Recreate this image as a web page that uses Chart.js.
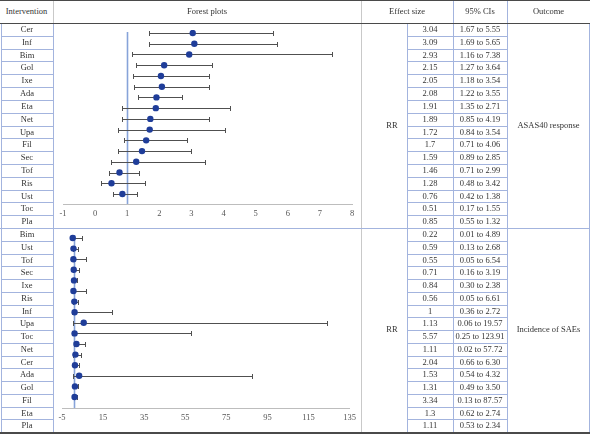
<!DOCTYPE html>
<html><head><meta charset="utf-8">
<script src="https://cdn.jsdelivr.net/npm/chart.js@4.4.1/dist/chart.umd.min.js"></script>
<style>
html,body{margin:0;padding:0;background:#fff;}
#wrap{position:relative;width:590px;height:434px;font-family:"Liberation Serif","DejaVu Serif",serif;font-size:8.5px;color:#333;overflow:hidden;background:#fff;}
.t{position:absolute;text-align:center;white-space:nowrap;}
.l{position:absolute;}
canvas{position:absolute;}
</style></head><body><div id="wrap">
<canvas id="chartA" width="308" height="205" style="left:53px;top:23px"></canvas>
<canvas id="chartB" width="308" height="204" style="left:53px;top:228px"></canvas>
</div>
<script>
// ---- data ----
const headers = ["Intervention", "Forest plots", "Effect size", "95% CIs", "Outcome"];
const measure = "RR";
const outcomeA = "ASAS40 response";
const outcomeB = "Incidence of SAEs";

const namesA = ["Cer","Inf","Bim","Gol","Ixe","Ada","Eta","Net","Upa","Fil","Sec","Tof","Ris","Ust","Toc","Pla"];
const rrA = [3.04,3.09,2.93,2.15,2.05,2.08,1.91,1.89,1.72,1.7,1.59,1.46,1.28,0.76,0.51,0.85];
const loA = [1.67,1.69,1.16,1.27,1.18,1.22,1.35,0.85,0.84,0.71,0.89,0.71,0.48,0.42,0.17,0.55];
const hiA = [5.55,5.65,7.38,3.64,3.54,3.55,2.71,4.19,3.54,4.06,2.85,2.99,3.42,1.38,1.55,1.32];

const namesB = ["Bim","Ust","Tof","Sec","Ixe","Ris","Inf","Upa","Toc","Net","Cer","Ada","Gol","Fil","Eta","Pla"];
const rrB = [0.22,0.59,0.55,0.71,0.84,0.56,1,1.13,5.57,1.11,2.04,1.53,1.31,3.34,1.3,1.11];
const loB = [0.01,0.13,0.05,0.16,0.30,0.05,0.36,0.06,0.25,0.02,0.66,0.54,0.49,0.13,0.62,0.53];
const hiB = [4.89,2.68,6.54,3.19,2.38,6.61,2.72,19.57,123.91,57.72,6.30,4.32,3.50,87.57,2.74,2.34];

const ticksA = [-1,0,1,2,3,4,5,6,7,8];
const ticksB = [-5,15,35,55,75,95,115,135];
const refValue = 1;

// ---- table chrome ----
const wrap = document.getElementById('wrap');
function text(s, x1, x2, y, h, extra) {
  const d = document.createElement('div');
  d.className = 't';
  d.style.left = x1 + 'px'; d.style.width = (x2 - x1) + 'px';
  d.style.top = y + 'px'; d.style.height = h + 'px'; d.style.lineHeight = h + 'px';
  if (extra) Object.assign(d.style, extra);
  d.textContent = s;
  wrap.appendChild(d);
}
function line(x, y, w, h, c) {
  const d = document.createElement('div');
  d.className = 'l';
  Object.assign(d.style, {left: x + 'px', top: y + 'px', width: w + 'px', height: h + 'px', background: c});
  wrap.appendChild(d);
}
const BLUE = '#a3b4de', GRAY = '#c9c9c9', DARK = '#4a4a4a';
const colX = [0, 53, 361, 453, 507, 590];
const secA = {top: 23, bottom: 228}, secB = {top: 228, bottom: 432};

// header
text(headers[0], 0, 53, 0, 23);
text(headers[1], 53, 361, 0, 23);
text(headers[2], 361, 453, 0, 23);
text(headers[3], 453, 507, 0, 23);
text(headers[4], 507, 590, 0, 23);

function section(sec, names, rr, lo, hi, outcome) {
  const n = names.length;
  const rh = (sec.bottom - sec.top) / n;
  names.forEach((nm, i) => {
    const y = sec.top + i * rh;
    text(nm, 1, 53, y, rh);
    text(String(rr[i]), 407, 453, y, rh);
    text(lo[i].toFixed(2) + ' to ' + hi[i].toFixed(2), 453, 507, y, rh);
    if (i > 0) {
      line(1, Math.round(y), 52, 1, BLUE);
      line(407, Math.round(y), 100, 1, BLUE);
    }
  });
  const mid = (sec.top + sec.bottom) / 2;
  text(measure, 370, 414, mid - 8, 14);
  text(outcome, 507, 590, mid - 8, 14);
}
section(secA, namesA, rrA, loA, hiA, outcomeA);
section(secB, namesB, rrB, loB, hiB, outcomeB);

// vertical lines
line(1, 23, 1, 409, BLUE);
line(53, 0, 1, 23, GRAY);
line(53, 23, 1, 409, BLUE);
line(361, 0, 1, 432, GRAY);
line(407, 23, 1, 409, BLUE);
line(453, 0, 1, 432, BLUE);
line(507, 0, 1, 432, BLUE);
line(589, 23, 1, 409, BLUE);
// horizontal
line(0, 0, 590, 1, DARK);
line(0, 23, 590, 1, DARK);
line(0, 228, 590, 1, BLUE);
line(0, 432, 590, 2, DARK);

// ---- forest plots ----
function forest(id, rr, lo, hi, ticks, yMin, yMax, pad) {
  const errorBars = {
    id: 'errorBars',
    beforeDatasetsDraw(chart) {
      const {ctx, chartArea, scales: {x, y}} = chart;
      ctx.save();
      const xr = Math.round(x.getPixelForValue(refValue)) + 0.5;
      ctx.strokeStyle = '#87a3d9'; ctx.lineWidth = 1.6;
      ctx.beginPath(); ctx.moveTo(xr, chartArea.top + 2); ctx.lineTo(xr, chartArea.bottom); ctx.stroke();
      ctx.strokeStyle = '#505050'; ctx.lineWidth = 1;
      rr.forEach((v, i) => {
        const py = Math.round(y.getPixelForValue(i)) + 0.5;
        const a = Math.round(x.getPixelForValue(lo[i])) + 0.5;
        const b = Math.round(x.getPixelForValue(hi[i])) + 0.5;
        ctx.beginPath();
        ctx.moveTo(a, py); ctx.lineTo(b, py);
        ctx.moveTo(a, py - 2.5); ctx.lineTo(a, py + 2.5);
        ctx.moveTo(b, py - 2.5); ctx.lineTo(b, py + 2.5);
        ctx.stroke();
      });
      ctx.restore();
    }
  };
  return new Chart(document.getElementById(id), {
    type: 'scatter',
    data: {datasets: [{
      data: rr.map((v, i) => ({x: v, y: i})),
      pointRadius: 3.2, pointBackgroundColor: '#1f3d99', pointBorderWidth: 0,
      showLine: false
    }]},
    options: {
      responsive: false, animation: false, events: [],
      layout: {padding: pad},
      plugins: {legend: {display: false}, tooltip: {enabled: false}},
      scales: {
        x: {
          type: 'linear', min: ticks[0], max: ticks[ticks.length - 1],
          ticks: {stepSize: ticks[1] - ticks[0], padding: 5, color: '#555',
                  font: {family: '"Liberation Serif","DejaVu Serif",serif', size: 8.5}},
          grid: {display: false, drawTicks: false},
          border: {display: true, color: '#bdbdbd', width: 1},
          afterFit(s) { s.height = 24; }
        },
        y: {type: 'linear', reverse: true, min: yMin, max: yMax, display: false}
      }
    },
    plugins: [errorBars]
  });
}
forest('chartA', rrA, loA, hiA, ticksA, -0.28, 15.93, {left: 10, right: 9, top: 7, bottom: 0});
forest('chartB', rrB, loB, hiB, ticksB, -0.47, 16.04, {left: 9, right: 8, top: 5, bottom: 0});
</script></body></html>
